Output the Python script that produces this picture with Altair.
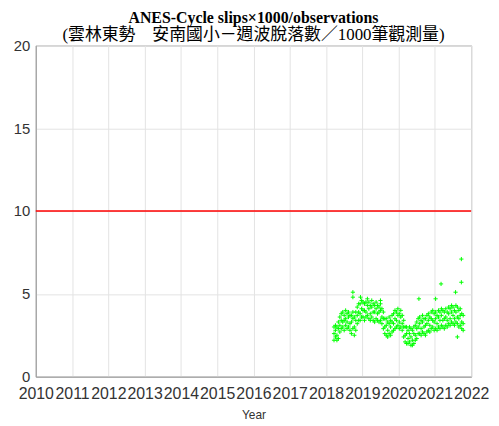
import altair as alt
import pandas as pd

# x positions (decimal year) of the observation cloud
years = [2018.22, 2018.26, 2018.30, 2018.34, 2018.38, 2018.42, 2018.46, 2018.50, 2018.54, 2018.58,
         2018.62, 2018.66, 2018.70, 2018.74, 2018.78, 2018.82, 2018.86, 2018.90, 2018.94, 2018.98,
         2019.02, 2019.06, 2019.10, 2019.14, 2019.18, 2019.22, 2019.26, 2019.30, 2019.34, 2019.38,
         2019.42, 2019.46, 2019.50, 2019.54, 2019.58, 2019.62, 2019.66, 2019.70, 2019.74, 2019.78,
         2019.82, 2019.86, 2019.90, 2019.94, 2019.98, 2020.02, 2020.06, 2020.10, 2020.14, 2020.18,
         2020.22, 2020.26, 2020.30, 2020.34, 2020.38, 2020.42, 2020.46, 2020.50, 2020.54, 2020.58,
         2020.62, 2020.66, 2020.70, 2020.74, 2020.78, 2020.82, 2020.86, 2020.90, 2020.94, 2020.98,
         2021.02, 2021.06, 2021.10, 2021.14, 2021.18, 2021.22, 2021.26, 2021.30, 2021.34, 2021.38,
         2021.42, 2021.46, 2021.50, 2021.54, 2021.58, 2021.62, 2021.66, 2021.70, 2021.74, 2021.78]

vals_lo = [2.2, 2.4, 2.2, 2.3, 2.7, 2.9, 3.0, 2.8, 3.1, 2.9,
           3.0, 2.8, 2.6, 2.9, 2.5, 2.8, 3.2, 3.4, 3.4, 3.6,
           3.6, 3.4, 3.6, 3.7, 3.5, 3.4, 3.6, 3.4, 3.3, 3.5,
           3.4, 3.3, 3.4, 3.2, 2.9, 2.6, 2.5, 2.4, 2.6, 2.5,
           2.7, 2.8, 2.9, 3.0, 3.1, 2.9, 3.0, 2.8, 2.4, 2.1,
           2.0, 2.0, 2.1, 1.9, 1.9, 2.0, 2.2, 2.3, 2.6, 2.6,
           2.5, 2.7, 2.6, 2.5, 2.7, 2.8, 2.7, 2.9, 3.0, 2.8,
           2.9, 2.8, 3.0, 2.9, 3.1, 3.0, 2.9, 3.1, 3.0, 3.2,
           3.1, 3.3, 3.2, 3.1, 3.3, 3.2, 3.0, 3.1, 2.9, 2.8]

vals_mid = [2.6, 2.8, 2.5, 2.9, 3.1, 3.4, 3.3, 3.4, 3.5, 3.3,
            3.6, 3.2, 3.3, 3.5, 3.0, 3.4, 3.7, 3.9, 3.8, 4.1,
            4.0, 4.0, 3.9, 4.3, 4.1, 3.8, 4.2, 3.9, 3.9, 4.1,
            3.8, 3.9, 4.0, 3.6, 3.5, 3.0, 3.1, 2.8, 3.2, 3.0,
            3.3, 3.2, 3.5, 3.4, 3.7, 3.3, 3.6, 3.2, 3.0, 2.5,
            2.6, 2.3, 2.6, 2.4, 2.2, 2.6, 2.5, 2.9, 3.0, 3.2,
            2.9, 3.3, 3.0, 3.1, 3.2, 3.4, 3.1, 3.5, 3.4, 3.3,
            3.5, 3.2, 3.6, 3.4, 3.7, 3.4, 3.5, 3.6, 3.4, 3.8,
            3.5, 3.9, 3.7, 3.5, 3.9, 3.6, 3.5, 3.7, 3.3, 3.2]

vals_hi = [3.0, 3.1, 3.0, 3.3, 3.6, 3.8, 3.9, 3.7, 4.0, 3.8,
           3.9, 3.7, 3.7, 3.9, 3.6, 3.9, 4.2, 4.4, 4.4, 4.6,
           4.5, 4.4, 4.5, 4.7, 4.5, 4.3, 4.6, 4.4, 4.3, 4.5,
           4.3, 4.2, 4.4, 4.1, 3.9, 3.5, 3.5, 3.3, 3.6, 3.4,
           3.7, 3.8, 4.0, 3.9, 4.1, 3.8, 4.0, 3.7, 3.4, 3.0,
           3.0, 2.8, 3.0, 2.9, 2.8, 3.0, 3.1, 3.3, 3.5, 3.6,
           3.4, 3.7, 3.5, 3.5, 3.7, 3.8, 3.6, 3.9, 4.0, 3.8,
           3.9, 3.7, 4.0, 3.9, 4.1, 4.0, 3.9, 4.1, 3.9, 4.2,
           4.1, 4.3, 4.2, 4.0, 4.3, 4.2, 4.0, 4.1, 3.8, 3.7]

outlier_years = [2018.74, 2018.74, 2018.95, 2019.50, 2020.56, 2021.02, 2021.17, 2021.57, 2021.62, 2021.73, 2021.73]
outlier_vals = [5.1, 4.8, 4.8, 4.6, 4.7, 4.7, 5.6, 5.1, 2.4, 7.1, 5.7]

threshold = [10]
x_ticks = list(range(2010, 2023))
y_ticks = [0, 5, 10, 15, 20]

frames = [pd.DataFrame({"year": years, "value": v}) for v in (vals_lo, vals_mid, vals_hi)]
frames.append(pd.DataFrame({"year": outlier_years, "value": outlier_vals}))
df = pd.concat(frames, ignore_index=True)
thr = pd.DataFrame({"value": threshold})

x_axis = alt.Axis(values=x_ticks, format="d", title="Year", grid=True, ticks=False,
                  labelOverlap=False, labelFlush=False, labelFontSize=16, labelPadding=9,
                  titleFontSize=12, titleFontWeight="normal", titlePadding=8)
y_axis = alt.Axis(values=y_ticks, title=None, grid=True, ticks=False, labelFontSize=15,
                  labelPadding=6, labelFlush=False, labelOverlap=False)

x = alt.X("year:Q", scale=alt.Scale(domain=[2010, 2022], nice=False, zero=False), axis=x_axis)
y = alt.Y("value:Q", scale=alt.Scale(domain=[0, 20], nice=False), axis=y_axis)

rule = alt.Chart(thr).mark_rule(color="#ff0000", strokeWidth=1.5).encode(y=y)
pts = alt.Chart(df).mark_point(shape="M-1,0L1,0M0,-1L0,1", size=18, filled=False,
                               color="#00ff00", strokeWidth=1, opacity=1).encode(x=x, y=y)

chart = alt.layer(rule, pts).properties(
    width=439, height=334,
    padding={"left": 5, "right": 2, "top": 0, "bottom": 2},
    title=alt.TitleParams(
        text="ANES-Cycle slips×1000/observations",
        subtitle="(雲林東勢　安南國小－週波脫落數／1000筆觀測量)",
        font="Liberation Serif", fontSize=16, fontWeight="bold", color="black",
        subtitleFont="Liberation Serif, Noto Sans CJK TC", subtitleFontSize=17,
        subtitleColor="black", subtitlePadding=2, offset=-5, anchor="middle",
    ),
).configure_axis(
    labelFont="Liberation Sans", titleFont="Liberation Sans",
    labelColor="#333333", titleColor="#333333",
    domainColor="#999999", gridColor="#e3e3e3", gridWidth=1,
).configure_view(stroke="#999999", strokeWidth=1)

chart.save("out.html", embed_options={"renderer": "svg", "actions": False})
